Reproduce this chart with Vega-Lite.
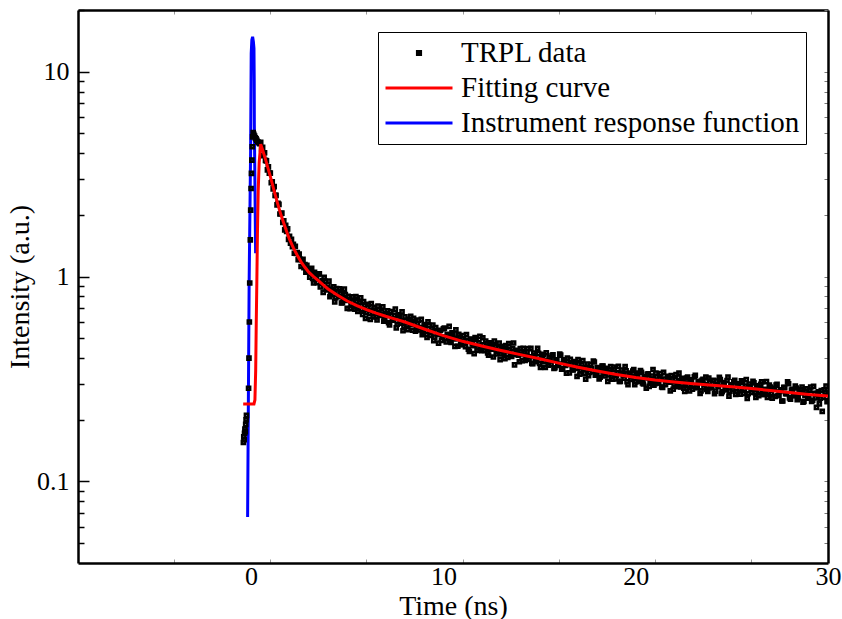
{
  "$schema": "https://vega.github.io/schema/vega-lite/v6.json",
  "width": 750,
  "height": 553,
  "autosize": "none",
  "padding": {"left": 78, "top": 10, "right": 14, "bottom": 56},
  "background": "white",
  "config": {
    "view": {"stroke": null},
    "font": "Liberation Serif",
    "axis": {"labelFont": "Liberation Serif", "titleFont": "Liberation Serif", "labelColor": "black", "titleColor": "black", "titleFontWeight": "normal", "domainColor": "black", "domainWidth": 2.5, "grid": false, "labelFlush": false, "labelOverlap": false}
  },
  "data": {"values": [
    {"s":"i","t":-0.18,"v":0.067},{"s":"i","t":-0.14,"v":0.25},{"s":"i","t":-0.1,"v":0.96},{"s":"i","t":-0.024,"v":4.1},{"s":"i","t":0.007,"v":12.3},{"s":"i","t":0.04,"v":14.3},{"s":"i","t":0.08,"v":14.8},{"s":"i","t":0.12,"v":14.0},{"s":"i","t":0.15,"v":13.0},{"s":"i","t":0.163,"v":9.0},{"s":"i","t":0.17,"v":5.5},{"s":"i","t":0.236,"v":1.3},
    {"s":"f","t":-0.41,"v":0.239},{"s":"f","t":0.15,"v":0.239},{"s":"f","t":0.2,"v":0.25},{"s":"f","t":0.24,"v":0.35},{"s":"f","t":0.27,"v":0.6},{"s":"f","t":0.3,"v":0.95},{"s":"f","t":0.33,"v":1.6},{"s":"f","t":0.37,"v":2.6},{"s":"f","t":0.42,"v":3.6},{"s":"f","t":0.5,"v":4.43},
    {"s":"f","t":0.6,"v":4.15},{"s":"f","t":0.7,"v":3.87},{"s":"f","t":0.8,"v":3.6},{"s":"f","t":0.9,"v":3.33},{"s":"f","t":1.0,"v":3.08},{"s":"f","t":1.1,"v":2.84},{"s":"f","t":1.2,"v":2.62},{"s":"f","t":1.3,"v":2.42},{"s":"f","t":1.4,"v":2.24},{"s":"f","t":1.5,"v":2.08},{"s":"f","t":1.6,"v":1.94},{"s":"f","t":1.7,"v":1.82},{"s":"f","t":1.8,"v":1.71},{"s":"f","t":1.9,"v":1.61},{"s":"f","t":2.0,"v":1.52},{"s":"f","t":2.2,"v":1.38},{"s":"f","t":2.4,"v":1.27},{"s":"f","t":2.6,"v":1.18},{"s":"f","t":2.8,"v":1.11},{"s":"f","t":3.0,"v":1.05},{"s":"f","t":3.25,"v":1.0},{"s":"f","t":3.5,"v":0.955},{"s":"f","t":3.75,"v":0.91},{"s":"f","t":4.0,"v":0.87},{"s":"f","t":4.5,"v":0.81},{"s":"f","t":5.0,"v":0.76},{"s":"f","t":5.5,"v":0.722},{"s":"f","t":6.0,"v":0.69},{"s":"f","t":6.5,"v":0.663},{"s":"f","t":7.0,"v":0.64},{"s":"f","t":7.5,"v":0.62},{"s":"f","t":8.0,"v":0.6},{"s":"f","t":8.5,"v":0.577},{"s":"f","t":9.0,"v":0.555},{"s":"f","t":10,"v":0.515},{"s":"f","t":11,"v":0.483},{"s":"f","t":12,"v":0.458},{"s":"f","t":13,"v":0.436},{"s":"f","t":14,"v":0.416},{"s":"f","t":15,"v":0.397},{"s":"f","t":16,"v":0.378},{"s":"f","t":17,"v":0.361},{"s":"f","t":18,"v":0.346},{"s":"f","t":19,"v":0.333},{"s":"f","t":20,"v":0.322},{"s":"f","t":21,"v":0.313},{"s":"f","t":22,"v":0.306},{"s":"f","t":23,"v":0.3},{"s":"f","t":24,"v":0.295},{"s":"f","t":25,"v":0.29},{"s":"f","t":26,"v":0.284},{"s":"f","t":27,"v":0.278},{"s":"f","t":28,"v":0.272},{"s":"f","t":29,"v":0.266},{"s":"f","t":30,"v":0.261},
    {"s":"d","t":-0.4,"v":0.155},{"s":"d","t":-0.38,"v":0.165},{"s":"d","t":-0.36,"v":0.16},{"s":"d","t":-0.34,"v":0.172},{"s":"d","t":-0.32,"v":0.18},{"s":"d","t":-0.3,"v":0.175},{"s":"d","t":-0.28,"v":0.19},{"s":"d","t":-0.26,"v":0.2},{"s":"d","t":-0.24,"v":0.21},
    {"s":"d","t":-0.13,"v":0.285},{"s":"d","t":-0.11,"v":0.4},{"s":"d","t":-0.09,"v":0.6},{"s":"d","t":-0.07,"v":0.93},{"s":"d","t":-0.04,"v":1.51},{"s":"d","t":-0.02,"v":2.11},{"s":"d","t":0.0,"v":2.69},{"s":"d","t":0.02,"v":3.19},{"s":"d","t":0.04,"v":3.7},{"s":"d","t":0.06,"v":4.3},{"s":"d","t":0.08,"v":4.81},{"s":"d","t":0.11,"v":5.05},{"s":"d","t":0.14,"v":4.95},{"s":"d","t":0.18,"v":4.85},{"s":"d","t":0.22,"v":4.75},{"s":"d","t":0.26,"v":4.7},{"s":"d","t":0.3,"v":4.62},{"s":"d","t":0.35,"v":4.55},{"s":"d","t":0.4,"v":4.5},{"s":"d","t":0.45,"v":4.45},
    {"s":"d","t":0.5,"v":4.52},{"s":"d","t":0.55,"v":4.2},{"s":"d","t":0.6,"v":4.27},{"s":"d","t":0.65,"v":3.89},{"s":"d","t":0.7,"v":4.02},{"s":"d","t":0.75,"v":3.69},{"s":"d","t":0.8,"v":3.67},{"s":"d","t":0.85,"v":3.32},{"s":"d","t":0.9,"v":3.43},{"s":"d","t":0.95,"v":3.2},{"s":"d","t":1.0,"v":3.2},{"s":"d","t":1.05,"v":2.87},{"s":"d","t":1.1,"v":2.9},{"s":"d","t":1.15,"v":2.68},{"s":"d","t":1.2,"v":2.75},{"s":"d","t":1.25,"v":2.49},{"s":"d","t":1.3,"v":2.49},{"s":"d","t":1.35,"v":2.24},{"s":"d","t":1.4,"v":2.28},{"s":"d","t":1.45,"v":2.25},{"s":"d","t":1.5,"v":2.02},{"s":"d","t":1.55,"v":2.03},{"s":"d","t":1.6,"v":2.04},{"s":"d","t":1.65,"v":1.84},{"s":"d","t":1.7,"v":1.87},{"s":"d","t":1.75,"v":1.69},{"s":"d","t":1.8,"v":1.78},{"s":"d","t":1.85,"v":1.66},{"s":"d","t":1.9,"v":1.71},{"s":"d","t":1.95,"v":1.52},{"s":"d","t":2.0,"v":1.57},{"s":"d","t":2.05,"v":1.455},{"s":"d","t":2.1,"v":1.52},{"s":"d","t":2.15,"v":1.4},{"s":"d","t":2.2,"v":1.435},{"s":"d","t":2.25,"v":1.3},{"s":"d","t":2.3,"v":1.405},{"s":"d","t":2.35,"v":1.297},{"s":"d","t":2.4,"v":1.31},{"s":"d","t":2.45,"v":1.21},{"s":"d","t":2.5,"v":1.286},{"s":"d","t":2.55,"v":1.214},{"s":"d","t":2.6,"v":1.12},{"s":"d","t":2.65,"v":1.208},{"s":"d","t":2.7,"v":1.214},{"s":"d","t":2.75,"v":1.105},{"s":"d","t":2.8,"v":1.143},{"s":"d","t":2.85,"v":1.051},{"s":"d","t":2.9,"v":1.134},{"s":"d","t":2.95,"v":1.065},{"s":"d","t":3.0,"v":1.092},
    {"s":"d","t":3.1,"v":1.071},{"s":"d","t":3.2,"v":0.98},{"s":"d","t":3.3,"v":1.05},{"s":"d","t":3.4,"v":0.973},{"s":"d","t":3.5,"v":1.031},{"s":"d","t":3.6,"v":0.89},{"s":"d","t":3.7,"v":0.956},{"s":"d","t":3.8,"v":0.992},{"s":"d","t":3.9,"v":0.868},{"s":"d","t":4.0,"v":0.914},
    {"s":"d","t":4.1,"v":0.798},{"s":"d","t":4.2,"v":0.863},{"s":"d","t":4.3,"v":0.892},{"s":"d","t":4.4,"v":0.789},{"s":"d","t":4.5,"v":0.842},{"s":"d","t":4.6,"v":0.872},{"s":"d","t":4.7,"v":0.743},{"s":"d","t":4.8,"v":0.788},{"s":"d","t":4.9,"v":0.816},{"s":"d","t":5.0,"v":0.699},
    {"s":"d","t":5.1,"v":0.775},{"s":"d","t":5.2,"v":0.73},{"s":"d","t":5.3,"v":0.796},{"s":"d","t":5.4,"v":0.694},{"s":"d","t":5.5,"v":0.758},{"s":"d","t":5.6,"v":0.716},{"s":"d","t":5.7,"v":0.787},{"s":"d","t":5.8,"v":0.654},{"s":"d","t":5.9,"v":0.724},{"s":"d","t":6.0,"v":0.669},
    {"s":"d","t":6.1,"v":0.733},{"s":"d","t":6.2,"v":0.618},{"s":"d","t":6.3,"v":0.687},{"s":"d","t":6.4,"v":0.708},{"s":"d","t":6.5,"v":0.636},{"s":"d","t":6.6,"v":0.717},{"s":"d","t":6.7,"v":0.647},{"s":"d","t":6.8,"v":0.675},{"s":"d","t":6.9,"v":0.606},{"s":"d","t":7.0,"v":0.646},
    {"s":"d","t":7.1,"v":0.681},{"s":"d","t":7.2,"v":0.581},{"s":"d","t":7.3,"v":0.647},{"s":"d","t":7.4,"v":0.612},{"s":"d","t":7.5,"v":0.694},{"s":"d","t":7.6,"v":0.585},{"s":"d","t":7.7,"v":0.643},{"s":"d","t":7.8,"v":0.608},{"s":"d","t":7.9,"v":0.544},{"s":"d","t":8.0,"v":0.636},
    {"s":"d","t":8.1,"v":0.577},{"s":"d","t":8.2,"v":0.615},{"s":"d","t":8.3,"v":0.639},{"s":"d","t":8.4,"v":0.547},{"s":"d","t":8.5,"v":0.589},{"s":"d","t":8.6,"v":0.55},{"s":"d","t":8.7,"v":0.613},{"s":"d","t":8.8,"v":0.564},{"s":"d","t":8.9,"v":0.52},{"s":"d","t":9.0,"v":0.583},
    {"s":"d","t":9.1,"v":0.54},{"s":"d","t":9.2,"v":0.602},{"s":"d","t":9.3,"v":0.516},{"s":"d","t":9.4,"v":0.555},{"s":"d","t":9.5,"v":0.487},{"s":"d","t":9.6,"v":0.563},{"s":"d","t":9.7,"v":0.522},{"s":"d","t":9.8,"v":0.544},{"s":"d","t":9.9,"v":0.488},{"s":"d","t":10.0,"v":0.556},
    {"s":"d","t":10.1,"v":0.497},{"s":"d","t":10.2,"v":0.519},{"s":"d","t":10.3,"v":0.571},{"s":"d","t":10.4,"v":0.477},{"s":"d","t":10.5,"v":0.524},{"s":"d","t":10.6,"v":0.456},{"s":"d","t":10.7,"v":0.498},{"s":"d","t":10.8,"v":0.523},{"s":"d","t":10.9,"v":0.467},{"s":"d","t":11.0,"v":0.497},
    {"s":"d","t":11.1,"v":0.47},{"s":"d","t":11.2,"v":0.521},{"s":"d","t":11.3,"v":0.442},{"s":"d","t":11.4,"v":0.492},{"s":"d","t":11.5,"v":0.47},{"s":"d","t":11.6,"v":0.421},{"s":"d","t":11.7,"v":0.493},{"s":"d","t":11.8,"v":0.449},{"s":"d","t":11.9,"v":0.511},{"s":"d","t":12.0,"v":0.435},
    {"s":"d","t":12.1,"v":0.465},{"s":"d","t":12.2,"v":0.485},{"s":"d","t":12.3,"v":0.424},{"s":"d","t":12.4,"v":0.449},{"s":"d","t":12.5,"v":0.469},{"s":"d","t":12.6,"v":0.405},{"s":"d","t":12.7,"v":0.456},{"s":"d","t":12.8,"v":0.431},{"s":"d","t":12.9,"v":0.473},{"s":"d","t":13.0,"v":0.419},
    {"s":"d","t":13.1,"v":0.451},{"s":"d","t":13.2,"v":0.397},{"s":"d","t":13.3,"v":0.434},{"s":"d","t":13.4,"v":0.471},{"s":"d","t":13.5,"v":0.413},{"s":"d","t":13.6,"v":0.445},{"s":"d","t":13.7,"v":0.371},{"s":"d","t":13.8,"v":0.428},{"s":"d","t":13.9,"v":0.414},{"s":"d","t":14.0,"v":0.445},
    {"s":"d","t":14.1,"v":0.389},{"s":"d","t":14.2,"v":0.424},{"s":"d","t":14.3,"v":0.394},{"s":"d","t":14.4,"v":0.445},{"s":"d","t":14.5,"v":0.406},{"s":"d","t":14.6,"v":0.377},{"s":"d","t":14.7,"v":0.423},{"s":"d","t":14.8,"v":0.393},{"s":"d","t":14.9,"v":0.447},{"s":"d","t":15.0,"v":0.377},
    {"s":"d","t":15.1,"v":0.403},{"s":"d","t":15.2,"v":0.417},{"s":"d","t":15.3,"v":0.36},{"s":"d","t":15.4,"v":0.389},{"s":"d","t":15.5,"v":0.402},{"s":"d","t":15.6,"v":0.374},{"s":"d","t":15.7,"v":0.415},{"s":"d","t":15.8,"v":0.359},{"s":"d","t":15.9,"v":0.391},{"s":"d","t":16.0,"v":0.374},
    {"s":"d","t":16.1,"v":0.414},{"s":"d","t":16.2,"v":0.355},{"s":"d","t":16.3,"v":0.392},{"s":"d","t":16.4,"v":0.338},{"s":"d","t":16.5,"v":0.373},{"s":"d","t":16.6,"v":0.394},{"s":"d","t":16.7,"v":0.351},{"s":"d","t":16.8,"v":0.375},{"s":"d","t":16.9,"v":0.356},{"s":"d","t":17.0,"v":0.393},
    {"s":"d","t":17.1,"v":0.334},{"s":"d","t":17.2,"v":0.372},{"s":"d","t":17.3,"v":0.356},{"s":"d","t":17.4,"v":0.316},{"s":"d","t":17.5,"v":0.374},{"s":"d","t":17.6,"v":0.341},{"s":"d","t":17.7,"v":0.357},{"s":"d","t":17.8,"v":0.387},{"s":"d","t":17.9,"v":0.33},{"s":"d","t":18.0,"v":0.36},
    {"s":"d","t":18.1,"v":0.317},{"s":"d","t":18.2,"v":0.346},{"s":"d","t":18.3,"v":0.366},{"s":"d","t":18.4,"v":0.327},{"s":"d","t":18.5,"v":0.349},{"s":"d","t":18.6,"v":0.331},{"s":"d","t":18.7,"v":0.364},{"s":"d","t":18.8,"v":0.316},{"s":"d","t":18.9,"v":0.351},{"s":"d","t":19.0,"v":0.33},
    {"s":"d","t":19.1,"v":0.365},{"s":"d","t":19.2,"v":0.308},{"s":"d","t":19.3,"v":0.337},{"s":"d","t":19.4,"v":0.319},{"s":"d","t":19.5,"v":0.347},{"s":"d","t":19.6,"v":0.297},{"s":"d","t":19.7,"v":0.338},{"s":"d","t":19.8,"v":0.324},{"s":"d","t":19.9,"v":0.352},{"s":"d","t":20.0,"v":0.306},
    {"s":"d","t":20.1,"v":0.331},{"s":"d","t":20.2,"v":0.314},{"s":"d","t":20.3,"v":0.341},{"s":"d","t":20.4,"v":0.299},{"s":"d","t":20.5,"v":0.32},{"s":"d","t":20.6,"v":0.333},{"s":"d","t":20.7,"v":0.291},{"s":"d","t":20.8,"v":0.315},{"s":"d","t":20.9,"v":0.352},{"s":"d","t":21.0,"v":0.3},
    {"s":"d","t":21.1,"v":0.324},{"s":"d","t":21.2,"v":0.303},{"s":"d","t":21.3,"v":0.336},{"s":"d","t":21.4,"v":0.288},{"s":"d","t":21.5,"v":0.316},{"s":"d","t":21.6,"v":0.306},{"s":"d","t":21.7,"v":0.326},{"s":"d","t":21.8,"v":0.277},{"s":"d","t":21.9,"v":0.316},{"s":"d","t":22.0,"v":0.297},
    {"s":"d","t":22.1,"v":0.332},{"s":"d","t":22.2,"v":0.29},{"s":"d","t":22.3,"v":0.31},{"s":"d","t":22.4,"v":0.319},{"s":"d","t":22.5,"v":0.285},{"s":"d","t":22.6,"v":0.302},{"s":"d","t":22.7,"v":0.323},{"s":"d","t":22.8,"v":0.277},{"s":"d","t":22.9,"v":0.313},{"s":"d","t":23.0,"v":0.294},
    {"s":"d","t":23.1,"v":0.33},{"s":"d","t":23.2,"v":0.287},{"s":"d","t":23.3,"v":0.308},{"s":"d","t":23.4,"v":0.277},{"s":"d","t":23.5,"v":0.315},{"s":"d","t":23.6,"v":0.297},{"s":"d","t":23.7,"v":0.281},{"s":"d","t":23.8,"v":0.32},{"s":"d","t":23.9,"v":0.286},{"s":"d","t":24.0,"v":0.301},
    {"s":"d","t":24.1,"v":0.268},{"s":"d","t":24.2,"v":0.309},{"s":"d","t":24.3,"v":0.29},{"s":"d","t":24.4,"v":0.314},{"s":"d","t":24.5,"v":0.274},{"s":"d","t":24.6,"v":0.301},{"s":"d","t":24.7,"v":0.282},{"s":"d","t":24.8,"v":0.323},{"s":"d","t":24.9,"v":0.276},{"s":"d","t":25.0,"v":0.293},
    {"s":"d","t":25.1,"v":0.306},{"s":"d","t":25.2,"v":0.266},{"s":"d","t":25.3,"v":0.3},{"s":"d","t":25.4,"v":0.282},{"s":"d","t":25.5,"v":0.31},{"s":"d","t":25.6,"v":0.269},{"s":"d","t":25.7,"v":0.292},{"s":"d","t":25.8,"v":0.254},{"s":"d","t":25.9,"v":0.299},{"s":"d","t":26.0,"v":0.281},
    {"s":"d","t":26.1,"v":0.308},{"s":"d","t":26.2,"v":0.272},{"s":"d","t":26.3,"v":0.29},{"s":"d","t":26.4,"v":0.262},{"s":"d","t":26.5,"v":0.298},{"s":"d","t":26.6,"v":0.28},{"s":"d","t":26.7,"v":0.266},{"s":"d","t":26.8,"v":0.307},{"s":"d","t":26.9,"v":0.271},{"s":"d","t":27.0,"v":0.289},
    {"s":"d","t":27.1,"v":0.255},{"s":"d","t":27.2,"v":0.283},{"s":"d","t":27.3,"v":0.295},{"s":"d","t":27.4,"v":0.262},{"s":"d","t":27.5,"v":0.275},{"s":"d","t":27.6,"v":0.247},{"s":"d","t":27.7,"v":0.288},{"s":"d","t":27.8,"v":0.268},{"s":"d","t":27.9,"v":0.306},{"s":"d","t":28.0,"v":0.256},
    {"s":"d","t":28.1,"v":0.279},{"s":"d","t":28.2,"v":0.263},{"s":"d","t":28.3,"v":0.292},{"s":"d","t":28.4,"v":0.251},{"s":"d","t":28.5,"v":0.272},{"s":"d","t":28.6,"v":0.281},{"s":"d","t":28.7,"v":0.244},{"s":"d","t":28.8,"v":0.264},{"s":"d","t":28.9,"v":0.283},{"s":"d","t":29.0,"v":0.255},
    {"s":"d","t":29.1,"v":0.289},{"s":"d","t":29.2,"v":0.249},{"s":"d","t":29.3,"v":0.269},{"s":"d","t":29.4,"v":0.23},{"s":"d","t":29.5,"v":0.274},{"s":"d","t":29.6,"v":0.255},{"s":"d","t":29.7,"v":0.22},{"s":"d","t":29.8,"v":0.28},{"s":"d","t":29.9,"v":0.292},{"s":"d","t":30.0,"v":0.248},
    {"s":"d","t":3.05,"v":0.993},{"s":"d","t":3.15,"v":1.097},{"s":"d","t":3.25,"v":0.93},{"s":"d","t":3.35,"v":1.021},{"s":"d","t":3.45,"v":0.935},{"s":"d","t":3.55,"v":1.031},{"s":"d","t":3.65,"v":0.937},{"s":"d","t":3.75,"v":0.837},{"s":"d","t":3.85,"v":0.948},{"s":"d","t":3.95,"v":0.86},
    {"s":"d","t":4.05,"v":0.95},{"s":"d","t":4.15,"v":0.818},{"s":"d","t":4.25,"v":0.865},{"s":"d","t":4.35,"v":0.753},{"s":"d","t":4.45,"v":0.873},{"s":"d","t":4.55,"v":0.797},{"s":"d","t":4.65,"v":0.827},{"s":"d","t":4.75,"v":0.746},{"s":"d","t":4.85,"v":0.868},{"s":"d","t":4.95,"v":0.765},
    {"s":"d","t":5.05,"v":0.801},{"s":"d","t":5.15,"v":0.697},{"s":"d","t":5.25,"v":0.756},{"s":"d","t":5.35,"v":0.712},{"s":"d","t":5.45,"v":0.799},{"s":"d","t":5.55,"v":0.676},{"s":"d","t":5.65,"v":0.749},{"s":"d","t":5.75,"v":0.692},{"s":"d","t":5.85,"v":0.756},{"s":"d","t":5.95,"v":0.624},
    {"s":"d","t":6.05,"v":0.709},{"s":"d","t":6.15,"v":0.662},{"s":"d","t":6.25,"v":0.738},{"s":"d","t":6.35,"v":0.637},{"s":"d","t":6.45,"v":0.673},{"s":"d","t":6.55,"v":0.615},{"s":"d","t":6.65,"v":0.689},{"s":"d","t":6.75,"v":0.652},{"s":"d","t":6.85,"v":0.712},{"s":"d","t":6.95,"v":0.617},
    {"s":"d","t":7.05,"v":0.657},{"s":"d","t":7.15,"v":0.596},{"s":"d","t":7.25,"v":0.674},{"s":"d","t":7.35,"v":0.62},{"s":"d","t":7.45,"v":0.647},{"s":"d","t":7.55,"v":0.562},{"s":"d","t":7.65,"v":0.651},{"s":"d","t":7.75,"v":0.592},{"s":"d","t":7.85,"v":0.673},{"s":"d","t":7.95,"v":0.572},
    {"s":"d","t":8.05,"v":0.61},{"s":"d","t":8.15,"v":0.551},{"s":"d","t":8.25,"v":0.618},{"s":"d","t":8.35,"v":0.584},{"s":"d","t":8.45,"v":0.626},{"s":"d","t":8.55,"v":0.541},{"s":"d","t":8.65,"v":0.588},{"s":"d","t":8.75,"v":0.549},{"s":"d","t":8.85,"v":0.618},{"s":"d","t":8.95,"v":0.535},
    {"s":"d","t":9.05,"v":0.575},{"s":"d","t":9.15,"v":0.505},{"s":"d","t":9.25,"v":0.578},{"s":"d","t":9.35,"v":0.536},{"s":"d","t":9.45,"v":0.58},{"s":"d","t":9.55,"v":0.506},{"s":"d","t":9.65,"v":0.54},{"s":"d","t":9.75,"v":0.473},{"s":"d","t":9.85,"v":0.547},{"s":"d","t":9.95,"v":0.507},
    {"s":"d","t":10.05,"v":0.56},{"s":"d","t":10.15,"v":0.48},{"s":"d","t":10.25,"v":0.522},{"s":"d","t":10.35,"v":0.488},{"s":"d","t":10.45,"v":0.531},{"s":"d","t":10.55,"v":0.498},{"s":"d","t":10.65,"v":0.549},{"s":"d","t":10.75,"v":0.457},{"s":"d","t":10.85,"v":0.507},{"s":"d","t":10.95,"v":0.465},
    {"s":"d","t":11.05,"v":0.515},{"s":"d","t":11.15,"v":0.455},{"s":"d","t":11.25,"v":0.486},{"s":"d","t":11.35,"v":0.431},{"s":"d","t":11.45,"v":0.495},{"s":"d","t":11.55,"v":0.46},{"s":"d","t":11.65,"v":0.504},{"s":"d","t":11.75,"v":0.436},{"s":"d","t":11.85,"v":0.475},{"s":"d","t":11.95,"v":0.445},
    {"s":"d","t":12.05,"v":0.503},{"s":"d","t":12.15,"v":0.436},{"s":"d","t":12.25,"v":0.47},{"s":"d","t":12.35,"v":0.414},{"s":"d","t":12.45,"v":0.475},{"s":"d","t":12.55,"v":0.442},{"s":"d","t":12.65,"v":0.484},{"s":"d","t":12.75,"v":0.419},{"s":"d","t":12.85,"v":0.448},{"s":"d","t":12.95,"v":0.393},
    {"s":"d","t":13.05,"v":0.457},{"s":"d","t":13.15,"v":0.42},{"s":"d","t":13.25,"v":0.461},{"s":"d","t":13.35,"v":0.403},{"s":"d","t":13.45,"v":0.44},{"s":"d","t":13.55,"v":0.408},{"s":"d","t":13.65,"v":0.474},{"s":"d","t":13.75,"v":0.417},{"s":"d","t":13.85,"v":0.436},{"s":"d","t":13.95,"v":0.384},
    {"s":"d","t":14.05,"v":0.419},{"s":"d","t":14.15,"v":0.446},{"s":"d","t":14.25,"v":0.39},{"s":"d","t":14.35,"v":0.429},{"s":"d","t":14.45,"v":0.395},{"s":"d","t":14.55,"v":0.446},{"s":"d","t":14.65,"v":0.376},{"s":"d","t":14.75,"v":0.41},{"s":"d","t":14.85,"v":0.384},{"s":"d","t":14.95,"v":0.422},
    {"s":"d","t":15.05,"v":0.36},{"s":"d","t":15.15,"v":0.41},{"s":"d","t":15.25,"v":0.384},{"s":"d","t":15.35,"v":0.425},{"s":"d","t":15.45,"v":0.369},{"s":"d","t":15.55,"v":0.39},{"s":"d","t":15.65,"v":0.412},{"s":"d","t":15.75,"v":0.356},{"s":"d","t":15.85,"v":0.392},{"s":"d","t":15.95,"v":0.368},
    {"s":"d","t":16.05,"v":0.418},{"s":"d","t":16.15,"v":0.353},{"s":"d","t":16.25,"v":0.392},{"s":"d","t":16.35,"v":0.368},{"s":"d","t":16.45,"v":0.4},{"s":"d","t":16.55,"v":0.339},{"s":"d","t":16.65,"v":0.374},{"s":"d","t":16.75,"v":0.35},{"s":"d","t":16.85,"v":0.385},{"s":"d","t":16.95,"v":0.326},
    {"s":"d","t":17.05,"v":0.374},{"s":"d","t":17.15,"v":0.348},{"s":"d","t":17.25,"v":0.389},{"s":"d","t":17.35,"v":0.338},{"s":"d","t":17.45,"v":0.361},{"s":"d","t":17.55,"v":0.328},{"s":"d","t":17.65,"v":0.372},{"s":"d","t":17.75,"v":0.343},{"s":"d","t":17.85,"v":0.383},{"s":"d","t":17.95,"v":0.333},
    {"s":"d","t":18.05,"v":0.356},{"s":"d","t":18.15,"v":0.323},{"s":"d","t":18.25,"v":0.366},{"s":"d","t":18.35,"v":0.338},{"s":"d","t":18.45,"v":0.357},{"s":"d","t":18.55,"v":0.308},{"s":"d","t":18.65,"v":0.351},{"s":"d","t":18.75,"v":0.326},{"s":"d","t":18.85,"v":0.362},{"s":"d","t":18.95,"v":0.317},
    {"s":"d","t":19.05,"v":0.339},{"s":"d","t":19.15,"v":0.308},{"s":"d","t":19.25,"v":0.35},{"s":"d","t":19.35,"v":0.33},{"s":"d","t":19.45,"v":0.364},{"s":"d","t":19.55,"v":0.307},{"s":"d","t":19.65,"v":0.335},{"s":"d","t":19.75,"v":0.315},{"s":"d","t":19.85,"v":0.346},{"s":"d","t":19.95,"v":0.297},
    {"s":"d","t":20.05,"v":0.338},{"s":"d","t":20.15,"v":0.308},{"s":"d","t":20.25,"v":0.348},{"s":"d","t":20.35,"v":0.303},{"s":"d","t":20.45,"v":0.324},{"s":"d","t":20.55,"v":0.285},{"s":"d","t":20.65,"v":0.335},{"s":"d","t":20.75,"v":0.309},{"s":"d","t":20.85,"v":0.327},{"s":"d","t":20.95,"v":0.295},
    {"s":"d","t":21.05,"v":0.338},{"s":"d","t":21.15,"v":0.303},{"s":"d","t":21.25,"v":0.318},{"s":"d","t":21.35,"v":0.289},{"s":"d","t":21.45,"v":0.341},{"s":"d","t":21.55,"v":0.297},{"s":"d","t":21.65,"v":0.321},{"s":"d","t":21.75,"v":0.305},{"s":"d","t":21.85,"v":0.329},{"s":"d","t":21.95,"v":0.282},
    {"s":"d","t":22.05,"v":0.315},{"s":"d","t":22.15,"v":0.296},{"s":"d","t":22.25,"v":0.338},{"s":"d","t":22.35,"v":0.289},{"s":"d","t":22.45,"v":0.307},{"s":"d","t":22.55,"v":0.275},{"s":"d","t":22.65,"v":0.32},{"s":"d","t":22.75,"v":0.295},{"s":"d","t":22.85,"v":0.313},{"s":"d","t":22.95,"v":0.282},
    {"s":"d","t":23.05,"v":0.324},{"s":"d","t":23.15,"v":0.288},{"s":"d","t":23.25,"v":0.305},{"s":"d","t":23.35,"v":0.269},{"s":"d","t":23.45,"v":0.312},{"s":"d","t":23.55,"v":0.288},{"s":"d","t":23.65,"v":0.323},{"s":"d","t":23.75,"v":0.275},{"s":"d","t":23.85,"v":0.304},{"s":"d","t":23.95,"v":0.289},
    {"s":"d","t":24.05,"v":0.312},{"s":"d","t":24.15,"v":0.276},{"s":"d","t":24.25,"v":0.296},{"s":"d","t":24.35,"v":0.322},{"s":"d","t":24.45,"v":0.269},{"s":"d","t":24.55,"v":0.304},{"s":"d","t":24.65,"v":0.28},{"s":"d","t":24.75,"v":0.311},{"s":"d","t":24.85,"v":0.261},{"s":"d","t":24.95,"v":0.296},
    {"s":"d","t":25.05,"v":0.281},{"s":"d","t":25.15,"v":0.312},{"s":"d","t":25.25,"v":0.274},{"s":"d","t":25.35,"v":0.297},{"s":"d","t":25.45,"v":0.267},{"s":"d","t":25.55,"v":0.304},{"s":"d","t":25.65,"v":0.283},{"s":"d","t":25.75,"v":0.314},{"s":"d","t":25.85,"v":0.268},{"s":"d","t":25.95,"v":0.29},
    {"s":"d","t":26.05,"v":0.272},{"s":"d","t":26.15,"v":0.303},{"s":"d","t":26.25,"v":0.257},{"s":"d","t":26.35,"v":0.293},{"s":"d","t":26.45,"v":0.276},{"s":"d","t":26.55,"v":0.306},{"s":"d","t":26.65,"v":0.266},{"s":"d","t":26.75,"v":0.282},{"s":"d","t":26.85,"v":0.257},{"s":"d","t":26.95,"v":0.295},
    {"s":"d","t":27.05,"v":0.269},{"s":"d","t":27.15,"v":0.285},{"s":"d","t":27.25,"v":0.26},{"s":"d","t":27.35,"v":0.298},{"s":"d","t":27.45,"v":0.264},{"s":"d","t":27.55,"v":0.28},{"s":"d","t":27.65,"v":0.247},{"s":"d","t":27.75,"v":0.287},{"s":"d","t":27.85,"v":0.268},{"s":"d","t":27.95,"v":0.3},
    {"s":"d","t":28.05,"v":0.252},{"s":"d","t":28.15,"v":0.282},{"s":"d","t":28.25,"v":0.262},{"s":"d","t":28.35,"v":0.286},{"s":"d","t":28.45,"v":0.256},{"s":"d","t":28.55,"v":0.271},{"s":"d","t":28.65,"v":0.289},{"s":"d","t":28.75,"v":0.246},{"s":"d","t":28.85,"v":0.275},{"s":"d","t":28.95,"v":0.256},
    {"s":"d","t":29.05,"v":0.279},{"s":"d","t":29.15,"v":0.246},{"s":"d","t":29.25,"v":0.291},{"s":"d","t":29.35,"v":0.256},{"s":"d","t":29.45,"v":0.269},{"s":"d","t":29.55,"v":0.239},{"s":"d","t":29.65,"v":0.278},{"s":"d","t":29.75,"v":0.257},{"s":"d","t":29.85,"v":0.272},{"s":"d","t":29.95,"v":0.245}
  ]},
  "resolve": {"axis": {"x": "independent", "y": "independent"}},
  "layer": [
    {
      "transform": [{"filter": "datum.s == 'i'"}],
      "mark": {"type": "line", "strokeWidth": 3, "clip": true},
      "encoding": {
        "x": {"field": "t", "type": "quantitative", "scale": {"domain": [-9, 30], "nice": false, "zero": false},
          "axis": {"orient": "bottom", "title": "Time (ns)", "titleFontSize": 28, "titlePadding": 3, "values": [-4, 0, 1, 6, 10, 11, 16, 20, 21, 26, 30],
            "labelExpr": "datum.value % 10 == 0 ? datum.label : ''", "labelFontSize": 26, "labelPadding": 4, "tickSize": -4, "tickWidth": 1,
            "tickColor": {"condition": {"test": "datum.value % 10 == 0", "value": "transparent"}, "value": "#999999"}}},
        "y": {"field": "v", "type": "quantitative", "scale": {"type": "log", "domain": [0.04, 20], "nice": false},
          "axis": {"orient": "left", "title": "Intensity (a.u.)", "titleFontSize": 28, "titlePadding": 2,
            "values": [0.05, 0.06, 0.07, 0.08, 0.09, 0.1, 0.2, 0.3, 0.4, 0.5, 0.6, 0.7, 0.8, 0.9, 1, 2, 3, 4, 5, 6, 7, 8, 9, 10, 20],
            "labelExpr": "datum.value == 0.1 ? '0.1' : datum.value == 1 ? '1' : datum.value == 10 ? '10' : ''",
            "labelFontSize": 26, "labelPadding": 20, "tickWidth": 1.5, "tickColor": "black",
            "tickSize": {"condition": {"test": "datum.value == 0.1 || datum.value == 1 || datum.value == 10", "value": -11}, "value": -6}}},
        "color": {"field": "s", "type": "nominal", "scale": {"domain": ["d", "f", "i"], "range": ["#000000", "#ff0000", "#0000ff"]},
          "legend": {"orient": "none", "legendX": 300, "legendY": 22, "title": null, "labelExpr": "{'d': 'TRPL data', 'f': 'Fitting curve', 'i': 'Instrument response function'}[datum.label]",
            "labelFont": "Liberation Serif", "labelFontSize": 29, "labelColor": "black", "labelOffset": 7, "labelLimit": 0, "symbolStrokeWidth": 3,
            "clipHeight": 30, "strokeColor": "black", "fillColor": "white", "padding": 6, "rowPadding": 5}}
      }
    },
    {
      "transform": [{"filter": "datum.s == 'd'"}],
      "mark": {"type": "point", "filled": false, "strokeWidth": 2.5, "opacity": 1, "clip": true},
      "encoding": {
        "x": {"field": "t", "type": "quantitative", "axis": null},
        "y": {"field": "v", "type": "quantitative", "axis": null},
        "color": {"field": "s", "type": "nominal"},
        "shape": {"field": "s", "type": "nominal", "scale": {"domain": ["d", "f", "i"], "range": ["square", "stroke", "stroke"]}},
        "size": {"field": "s", "type": "nominal", "scale": {"type": "ordinal", "domain": ["d", "f", "i"], "range": [10, 4489, 4489]}}
      }
    },
    {
      "transform": [{"filter": "datum.s == 'f'"}],
      "mark": {"type": "line", "strokeWidth": 3, "clip": true},
      "encoding": {
        "x": {"field": "t", "type": "quantitative",
          "axis": {"orient": "top", "title": null, "labels": false, "values": [-4, 1, 6, 11, 16, 21, 26], "tickSize": -4, "tickColor": "#999999", "tickWidth": 1}},
        "y": {"field": "v", "type": "quantitative",
          "axis": {"orient": "right", "title": null, "labels": false, "values": [0.05, 0.06, 0.07, 0.08, 0.09, 0.1, 0.2, 0.3, 0.4, 0.5, 0.6, 0.7, 0.8, 0.9, 1, 2, 3, 4, 5, 6, 7, 8, 9, 10, 20], "tickSize": -4, "tickColor": "#777777", "tickWidth": 1}},
        "color": {"field": "s", "type": "nominal"}
      }
    }
  ]
}
